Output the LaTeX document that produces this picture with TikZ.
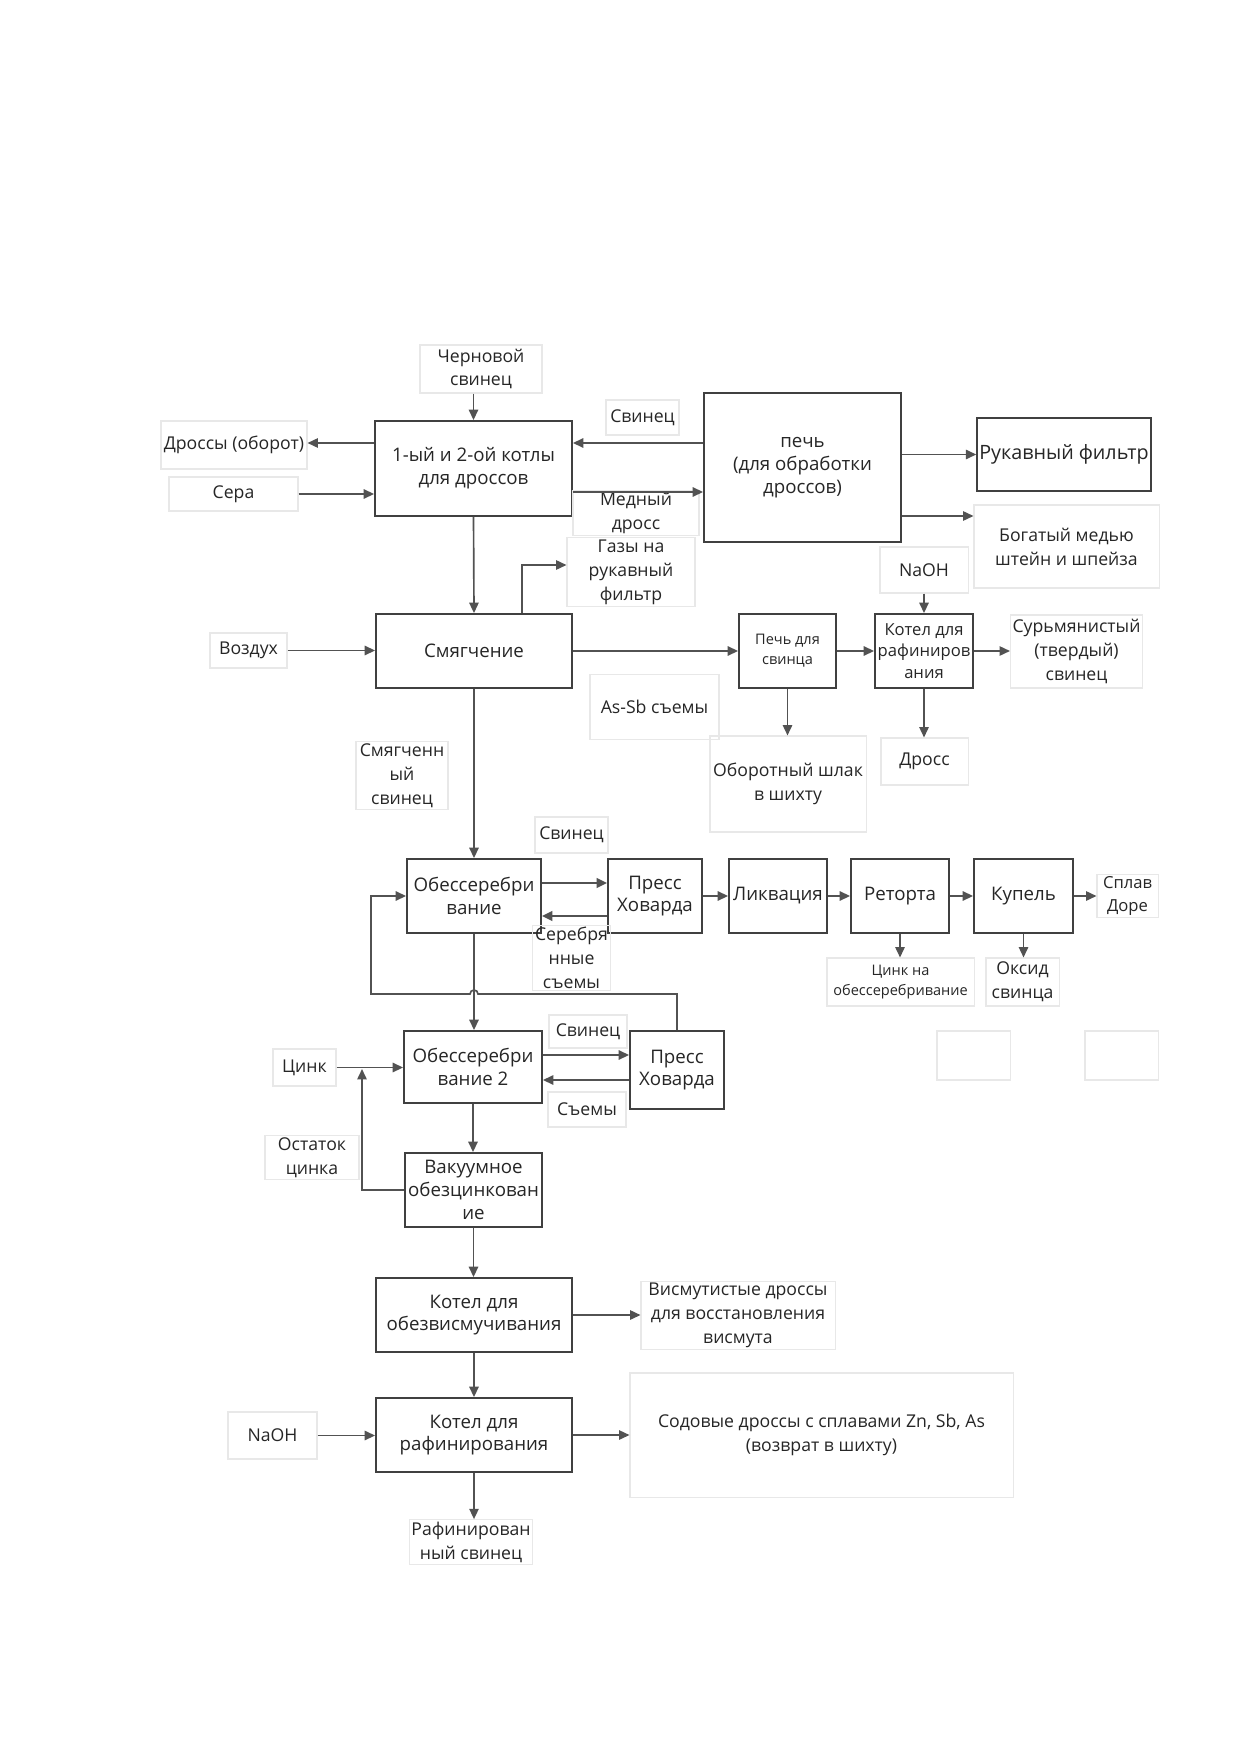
\documentclass[tikz,border=0pt]{standalone}
\usepackage{fontspec}
\setmainfont{Open Sans}
\usetikzlibrary{arrows.meta}

\begin{document}
\begin{tikzpicture}[x=0.016922cm, y=-0.016922cm,
  >={Triangle[length=5pt,width=4.5pt]},
  proc/.style={draw=black!75, line width=0.9pt, align=center, inner sep=1pt, text=black!85, font=\fontsize{9}{11}\selectfont},
  tag/.style={draw=black!9, line width=0.5pt, align=center, inner sep=1pt, text=black!85, font=\fontsize{8.5}{11.5}\selectfont},
  sz/.style 2 args={minimum width=#1*0.4815pt, minimum height=#2*0.4815pt},
  flow/.style={->, draw=black!68, line width=0.8pt}]
  \fill[white] (0,0) rectangle (1241,1754);
  \useasboundingbox (0,0) rectangle (1241,1754);

  \node[proc, sz={197}{95}] (kotly) at (473.5,468.5) {1-ый и 2-ой котлы\\для дроссов};
  \node[proc, sz={197}{149}] (pech) at (802.5,467.5) {печь\\(для обработки\\дроссов)};
  \node[proc, sz={172}{73}, font=\fontsize{9.5}{12}\selectfont] (rukav) at (1064,454.5) {Рукавный фильтр};
  \node[proc, sz={196}{74}] (smyag) at (474,651) {Смягчение};
  \node[proc, sz={97}{74}, font=\fontsize{7}{9.5}\selectfont] (pechsv) at (787.5,651) {Печь для\\свинца};
  \node[proc, sz={98}{74}, font=\fontsize{8}{10.5}\selectfont] (kotraf) at (924,651) {Котел для\\рафиниров\\ания};
  \node[proc, sz={134}{74}] (obes) at (474,896) {Обессеребри\\вание};
  \node[proc, sz={94}{74}] (press) at (655,896) {Пресс\\Ховарда};
  \node[proc, sz={98}{74}] (likv) at (778,896) {Ликвация};
  \node[proc, sz={98}{74}] (retorta) at (900,896) {Реторта};
  \node[proc, sz={99}{74}] (kupel) at (1023.5,896) {Купель};
  \node[proc, sz={138}{72}] (obesb) at (473,1067) {Обессеребри\\вание 2};
  \node[proc, sz={94}{78}] (pressb) at (677,1070) {Пресс\\Ховарда};
  \node[proc, sz={137}{74}] (vakuum) at (473.5,1190) {Вакуумное\\обезцинкован\\ие};
  \node[proc, sz={196}{74}] (kotbi) at (474,1315) {Котел для\\обезвисмучивания};
  \node[proc, sz={196}{74}] (kotrb) at (474,1435) {Котел для\\рафинирования};

  \node[tag, sz={122}{48}] (chern) at (481,369) {Черновой\\свинец};
  \node[tag, sz={146}{48}] (drossy) at (234,445) {Дроссы (оборот)};
  \node[tag, sz={129}{34}] (sera) at (233.5,494) {Сера};
  \node[tag, sz={73}{35}] (svin) at (642.5,417.5) {Свинец};
  \node[tag, sz={126}{39}] (medn) at (636,513) {Медный\\дросс};
  \node[tag, sz={128}{34}] (gazy) at (631,572) {Газы на\\рукавный\\фильтр};
  \node[tag, sz={185}{83}] (bogat) at (1066.5,546.5) {Богатый медью\\штейн и шпейза};
  \node[tag, sz={88}{46}] (naoh) at (924,570) {NaOH};
  \node[tag, sz={129}{73}] (surm) at (1076.5,651.5) {Сурьмянистый\\(твердый)\\свинец};
  \node[tag, sz={77}{35}] (vozduh) at (248.5,650.5) {Воздух};
  \node[tag, sz={129}{65}] (assb) at (654.5,707) {As-Sb съемы};
  \node[tag, sz={156}{96}] (oborot) at (788,784) {Оборотный шлак\\в шихту};
  \node[tag, sz={87}{47}] (dross) at (924.5,761.5) {Дросс};
  \node[tag, sz={92}{41}] (smsv) at (402,775.5) {Смягченн\\ый\\свинец};
  \node[tag, sz={73}{36}] (svinb) at (571.5,835) {Свинец};
  \node[tag, sz={77}{36}] (serebr) at (571.5,958) {Серебря\\нные\\съемы};
  \node[tag, sz={61}{40}, font=\fontsize{8}{11}\selectfont] (splav) at (1127.5,896) {Сплав\\Доре};
  \node[tag, sz={147}{48}, font=\fontsize{7}{10}\selectfont] (zinkna) at (900.5,982) {Цинк на\\обессеребривание};
  \node[tag, sz={73}{48}] (oksid) at (1022.5,982) {Оксид\\свинца};
  \node[tag, sz={73}{49}] (pustoa) at (973.5,1055.5) {};
  \node[tag, sz={73}{49}] (pustob) at (1121.5,1055.5) {};
  \node[tag, sz={78}{33}] (svinc) at (588,1031.5) {Свинец};
  \node[tag, sz={78}{35}] (syomy) at (587,1109.5) {Съемы};
  \node[tag, sz={63}{37}] (zink) at (304.5,1067.5) {Цинк};
  \node[tag, sz={94}{41}] (ostat) at (312,1157.5) {Остаток\\цинка};
  \node[tag, sz={194}{47}] (vismut) at (738,1315.5) {Висмутистые дроссы\\для восстановления\\висмута};
  \node[tag, sz={89}{47}] (naohb) at (272.5,1435.5) {NaOH};
  \node[tag, sz={383}{124}] (soda) at (821.5,1435) {Содовые дроссы с сплавами Zn, Sb, As\\(возврат в шихту)};
  \node[tag, sz={122}{40}] (rafsv) at (471,1542) {Рафинирован\\ный свинец};
  \coordinate (ostj) at (362,1069);

  \draw[flow] (chern.south -| kotly.north) -- (kotly.north);
  \draw[flow] (kotly.west |- 0,443) -- (drossy.east |- 0,443);
  \draw[flow] (sera.east) -- (sera.east -| kotly.west);
  \draw[flow] (pech.west |- 0,443) -- (kotly.east |- 0,443);
  \draw[flow] (kotly.east |- 0,492) -- (pech.west |- 0,492);
  \draw[flow] (kotly.south) -- (smyag.north);
  \draw[flow] (smyag.north -| 522,0) |- (gazy.west |- 0,565);
  \draw[flow] (pech.east |- rukav.west) -- (rukav.west);
  \draw[flow] (pech.east |- 0,516) -- (bogat.west |- 0,516);
  \draw[flow] (vozduh.east) -- (vozduh.east -| smyag.west);
  \draw[flow] (smyag.east) -- (pechsv.west);
  \draw[flow] (pechsv.east) -- (kotraf.west);
  \draw[flow] (kotraf.east) -- (kotraf.east -| surm.west);
  \draw[flow] (naoh.south) -- (kotraf.north);
  \draw[flow] (pechsv.south) -- (pechsv.south |- oborot.north);
  \draw[flow] (kotraf.south) -- (kotraf.south |- dross.north);
  \draw[flow] (smyag.south) -- (obes.north);
  \draw[flow, line width=1.3pt] (obes.east |- 0,883) -- (press.west |- 0,883);
  \draw[flow, line width=1.3pt] (press.west |- 0,916) -- (obes.east |- 0,916);
  \draw[flow] (press.east) -- (likv.west);
  \draw[flow] (likv.east) -- (retorta.west);
  \draw[flow] (retorta.east) -- (kupel.west);
  \draw[flow] (kupel.east) -- (splav.west);
  \draw[flow] (retorta.south) -- (retorta.south |- zinkna.north);
  \draw[flow] (kupel.south) -- (kupel.south |- oksid.north);
  \draw[flow] (obes.south) -- (obes.south |- obesb.north);
  \draw[flow] (pressb.north) |- (478,994) arc[start angle=0, end angle=-180, radius=4] -- (371,994) |- (obes.west);
  \draw[flow] (obesb.east |- 0,1055) -- (pressb.west |- 0,1055);
  \draw[flow] (pressb.west |- 0,1080) -- (obesb.east |- 0,1080);
  \draw[flow] (zink.east) -- (zink.east -| obesb.west);
  \draw[flow] (vakuum.west) -| (ostj);
  \draw[flow] (obesb.south) -- (obesb.south |- vakuum.north);
  \draw[flow] (vakuum.south) -- (vakuum.south |- kotbi.north);
  \draw[flow] (kotbi.east) -- (kotbi.east -| vismut.west);
  \draw[flow] (kotbi.south) -- (kotrb.north);
  \draw[flow] (naohb.east) -- (naohb.east -| kotrb.west);
  \draw[flow] (kotrb.east) -- (kotrb.east -| soda.west);
  \draw[flow] (kotrb.south) -- (kotrb.south |- rafsv.north);
\end{tikzpicture}
\end{document}
